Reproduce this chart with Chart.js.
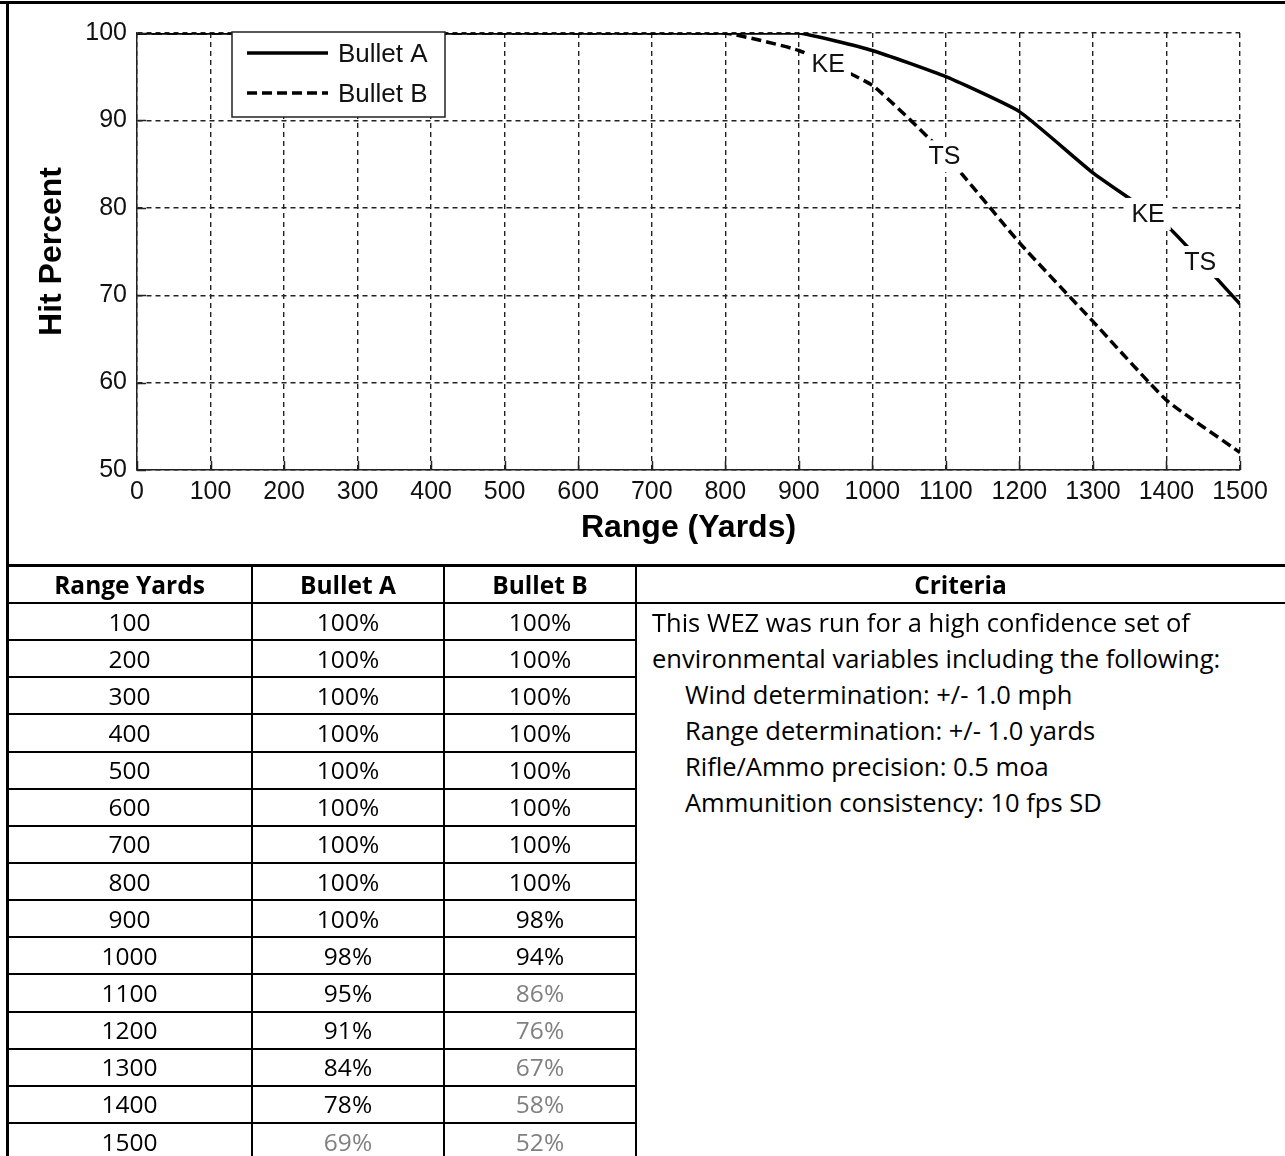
<!DOCTYPE html>
<html>
<head>
<meta charset="utf-8">
<script src="https://cdn.jsdelivr.net/npm/chart.js@4.4.1/dist/chart.umd.min.js"></script>
<style>
  html, body { margin: 0; padding: 0; background: #fff; }
  #page { position: relative; width: 1285px; height: 1156px; overflow: hidden; background: #fff; }
  #chartBox { position: absolute; left: 0; top: 0; width: 1285px; height: 565px; }
  .ln { position: absolute; background: #000; }
  .cell { position: absolute; font-family: 'Open Sans', 'Noto Sans', sans-serif; font-size: 24.5px; color: #000; white-space: nowrap; }
  .cell.c { text-align: center; }
  .cell.b { font-weight: bold; }
  .cell.grey { color: #808080; }
  .cell.crit { font-size: 25.5px; }
</style>
</head>
<body>
<div id="page">
  <div id="chartBox"><canvas id="wez"></canvas></div>
</div>
<script>
const rangeYards = [0, 100, 200, 300, 400, 500, 600, 700, 800, 900, 1000, 1100, 1200, 1300, 1400, 1500];
const bulletA = [100, 100, 100, 100, 100, 100, 100, 100, 100, 100, 98, 95, 91, 84, 78, 69];
const bulletB = [100, 100, 100, 100, 100, 100, 100, 100, 100, 98, 94, 86, 76, 67, 58, 52];

// in-line contour labels (KE / TS) sitting on the curves
const labelText = ['KE', 'TS', 'KE', 'TS'];
const labelRange = [1375, 1446, 940, 1098];
const labelValue = [79.3, 73.8, 96.4, 85.9];

// ranges past the TS mark are greyed in the table
const tsRangeA = 1446;
const tsRangeB = 1098;

const criteriaLines = [
  'This WEZ was run for a high confidence set of',
  'environmental variables including the following:',
  'Wind determination: +/- 1.0 mph',
  'Range determination: +/- 1.0 yards',
  'Rifle/Ammo precision: 0.5 moa',
  'Ammunition consistency: 10 fps SD'
];
const criteriaIndent = [false, false, true, true, true, true];

const axisFont = '"Liberation Sans", Arial, sans-serif';

const wezDecor = {
  id: 'wezDecor',
  afterDatasetsDraw(chart) {
    const { ctx, chartArea: a, scales: { x, y } } = chart;
    ctx.save();

    // white patch breaks the line where the label sits
    ctx.font = '25px ' + axisFont;
    ctx.textAlign = 'center';
    ctx.textBaseline = 'middle';
    labelText.forEach((t, i) => {
      const px = x.getPixelForValue(labelRange[i]);
      const py = y.getPixelForValue(labelValue[i]);
      const w = ctx.measureText(t).width + 12;
      ctx.fillStyle = '#fff';
      ctx.fillRect(px - w / 2, py - 16, w, 32);
      ctx.fillStyle = '#111';
      ctx.fillText(t, px, py + 1);
    });

    // inward tick marks like matlab
    ctx.setLineDash([]);
    ctx.strokeStyle = '#222';
    ctx.lineWidth = 1.5;
    ctx.beginPath();
    x.ticks.forEach(t => {
      const px = Math.round(x.getPixelForValue(t.value)) + 0.5;
      ctx.moveTo(px, a.bottom);
      ctx.lineTo(px, a.bottom - 9);
    });
    y.ticks.forEach(t => {
      const py = Math.round(y.getPixelForValue(t.value)) + 0.5;
      ctx.moveTo(a.left, py);
      ctx.lineTo(a.left + 9, py);
    });
    ctx.stroke();

    // legend box
    const lx = a.left + 95, ly = a.top - 1, lw = 213, lh = 85;
    ctx.fillStyle = '#fff';
    ctx.fillRect(lx, ly, lw, lh);
    ctx.strokeStyle = '#222';
    ctx.lineWidth = 1.5;
    ctx.strokeRect(lx, ly, lw, lh);
    chart.data.datasets.forEach((ds, i) => {
      const yy = ly + 21 + i * 40;
      ctx.strokeStyle = ds.borderColor;
      ctx.lineWidth = ds.borderWidth;
      ctx.setLineDash(ds.borderDash || []);
      ctx.beginPath();
      ctx.moveTo(lx + 15, yy);
      ctx.lineTo(lx + 96, yy);
      ctx.stroke();
      ctx.setLineDash([]);
      ctx.fillStyle = '#111';
      ctx.font = '26px ' + axisFont;
      ctx.textAlign = 'left';
      ctx.textBaseline = 'middle';
      ctx.fillText(ds.label, lx + 106, yy + 2);
    });

    ctx.restore();
  }
};

new Chart(document.getElementById('wez'), {
  type: 'line',
  data: {
    datasets: [
      {
        label: 'Bullet A',
        data: rangeYards.map((r, i) => ({ x: r, y: bulletA[i] })),
        borderColor: '#000',
        borderWidth: 3.5,
        pointRadius: 0,
        tension: 0.15,
        clip: 0
      },
      {
        label: 'Bullet B',
        data: rangeYards.map((r, i) => ({ x: r, y: bulletB[i] })),
        borderColor: '#000',
        borderWidth: 3.5,
        borderDash: [10, 5],
        pointRadius: 0,
        tension: 0.15,
        clip: 0
      }
    ]
  },
  options: {
    responsive: true,
    maintainAspectRatio: false,
    animation: false,
    layout: { padding: { top: 33, right: 45, left: 0, bottom: 0 } },
    plugins: { legend: { display: false }, tooltip: { enabled: false } },
    scales: {
      x: {
        type: 'linear',
        min: 0,
        max: 1500,
        ticks: {
          stepSize: 100, autoSkip: false, maxRotation: 0, padding: 7, color: '#111',
          font: { family: axisFont, size: 25 },
          callback: v => String(v)
        },
        grid: { color: '#222', lineWidth: 1.4, drawTicks: false },
        border: { display: true, color: '#222', width: 1.5, dash: [5, 4] },
        title: { display: true, text: 'Range (Yards)', color: '#000', font: { family: axisFont, size: 32, weight: 'bold', lineHeight: 1.2 }, padding: { top: 0, bottom: 18 } },
        afterFit(s) { s.height = 95; }
      },
      y: {
        min: 50,
        max: 100,
        ticks: { stepSize: 10, padding: 10, color: '#111', font: { family: axisFont, size: 25 } },
        grid: { color: '#222', lineWidth: 1.4, drawTicks: false },
        border: { display: true, color: '#222', width: 1.5, dash: [5, 4] },
        title: { display: true, text: 'Hit Percent', color: '#000', font: { family: axisFont, size: 32, weight: 'bold', lineHeight: 1.2 }, padding: { top: 33, bottom: 0 } },
        afterFit(s) { s.width = 137; }
      }
    }
  },
  plugins: [wezDecor]
});

// ---- table under the chart ----
const page = document.getElementById('page');
const colEdges = [7, 252, 444, 636, 1285];
const headTop = 565, headH = 38, rowH = 37.14;

function line(x, y, w, h) {
  const d = document.createElement('div');
  d.className = 'ln';
  d.style.left = x + 'px'; d.style.top = y + 'px';
  d.style.width = w + 'px'; d.style.height = h + 'px';
  page.appendChild(d);
}
function cell(text, x0, x1, yMid, cls) {
  const d = document.createElement('div');
  d.className = 'cell ' + cls;
  d.textContent = text;
  d.style.left = x0 + 'px';
  if (x1 != null) d.style.width = (x1 - x0) + 'px';
  d.style.top = (yMid - 18) + 'px';
  d.style.height = '36px';
  d.style.lineHeight = '36px';
  page.appendChild(d);
}

// frame
line(0, 1, 1285, 3);
line(6, 1, 3, 1156);
line(6, headTop - 1, 1279, 3);
line(6, headTop + headH - 1, 1279, 2);
for (let k = 1; k < 15; k++) line(6, Math.round(headTop + headH + k * rowH) - 1, colEdges[3] - 6, 2);
[1, 2, 3].forEach(c => line(colEdges[c] - 1, headTop, 2, 1156 - headTop));

const heads = ['Range Yards', 'Bullet A', 'Bullet B', 'Criteria'];
heads.forEach((h, c) => cell(h, colEdges[c], colEdges[c + 1], headTop + headH / 2 + 1, 'c b'));

rangeYards.slice(1).forEach((r, k) => {
  const yMid = headTop + headH + rowH * k + rowH / 2;
  const i = k + 1;
  cell(String(r), colEdges[0], colEdges[1], yMid, 'c');
  cell(bulletA[i] + '%', colEdges[1], colEdges[2], yMid, r > tsRangeA ? 'c grey' : 'c');
  cell(bulletB[i] + '%', colEdges[2], colEdges[3], yMid, r > tsRangeB ? 'c grey' : 'c');
});

criteriaLines.forEach((t, k) => {
  cell(t, criteriaIndent[k] ? 685 : 652, null, 622 + k * 36, 'crit');
});
</script>
</body>
</html>
